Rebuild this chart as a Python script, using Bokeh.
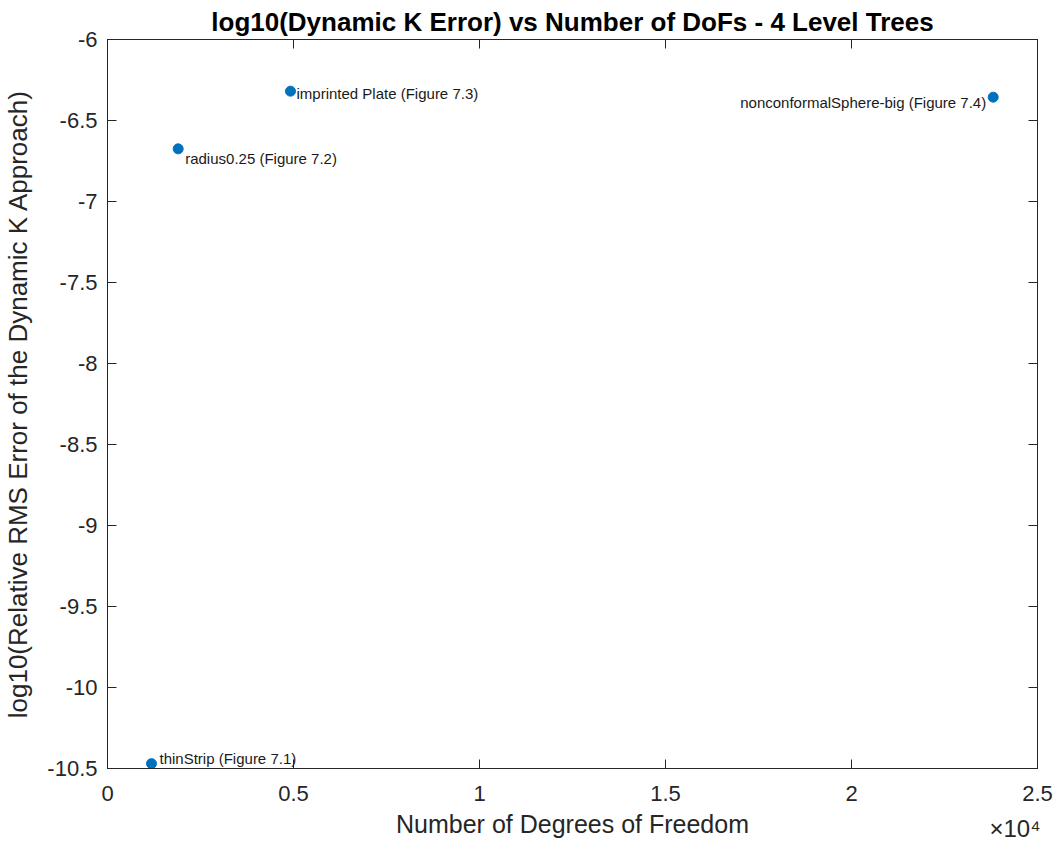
from bokeh.plotting import figure
from bokeh.models import ColumnDataSource, LinearAxis, FixedTicker, Range1d, Title
from bokeh.core.properties import value
from bokeh.embed import file_html
from bokeh.resources import INLINE

# ---- data ----
dofs = [1183, 1900, 4919, 23809]
log_err = [-10.47, -6.675, -6.319, -6.356]
names = ["thinStrip (Figure 7.1)", "radius0.25 (Figure 7.2)",
         "imprinted Plate (Figure 7.3)", "nonconformalSphere-big (Figure 7.4)"]
x_ticks = [0, 5000, 10000, 15000, 20000, 25000]
x_tick_labels = ["0", "0.5", "1", "1.5", "2", "2.5"]
x_exponent = "×10⁴"
y_ticks = [-10.5, -10, -9.5, -9, -8.5, -8, -7.5, -7, -6.5, -6]
y_tick_labels = ["-10.5", "-10", "-9.5", "-9", "-8.5", "-8", "-7.5", "-7", "-6.5", "-6"]

# ---- style (label placement in screen px) ----
lab_dx = [8, 7, 6, -7]
lab_dy = [-5, 10, 2, 5]
lab_align = ["left", "left", "left", "right"]

FONT = "Liberation Sans"
AX = "#262626"
BLUE = "#0072BD"

p = figure(frame_width=930, frame_height=729, output_backend="svg", toolbar_location=None,
           x_range=Range1d(0, 25000), y_range=Range1d(-10.5, -6),
           min_border_left=107, min_border_right=16, min_border_top=39, min_border_bottom=78,
           background_fill_color="white", border_fill_color="white")

p.title.text = "log10(Dynamic K Error) vs Number of DoFs - 4 Level Trees"
p.title.align = "center"
p.title.text_font = FONT
p.title.text_font_size = "26px"
p.title.text_font_style = "bold"
p.title.text_color = "black"
p.title.standoff = 5

p.xgrid.visible = False
p.ygrid.visible = False
p.outline_line_color = AX

xa = p.xaxis[0]
xa.ticker = FixedTicker(ticks=x_ticks)
xa.major_label_overrides = {t: l for t, l in zip(x_ticks, x_tick_labels)}
xa.axis_label = "Number of Degrees of Freedom"
ya = p.yaxis[0]
ya.ticker = FixedTicker(ticks=y_ticks)
ya.major_label_overrides = {t: l for t, l in zip(y_ticks, y_tick_labels)}
ya.axis_label = "log10(Relative RMS Error of the Dynamic K Approach)"

for ax in (xa, ya):
    ax.axis_line_color = AX
    ax.major_tick_line_color = AX
    ax.major_tick_in = 9
    ax.major_tick_out = 0
    ax.minor_tick_line_color = None
    ax.major_label_text_font = FONT
    ax.major_label_text_font_size = "22px"
    ax.major_label_text_color = AX
    ax.axis_label_text_font = FONT
    ax.axis_label_text_font_style = "normal"
    ax.axis_label_text_color = AX
xa.axis_label_text_font_size = "25px"
ya.axis_label_text_font_size = "26px"
xa.major_label_standoff = 17
xa.axis_label_standoff = 6
ya.major_label_standoff = 10
ya.axis_label_standoff = 11

# box axes (top/right) with inward ticks, no labels
top = LinearAxis(ticker=FixedTicker(ticks=x_ticks),
                 major_label_overrides={t: "" for t in x_ticks})
right = LinearAxis(ticker=FixedTicker(ticks=y_ticks),
                   major_label_overrides={t: "" for t in y_ticks})
for ax in (top, right):
    ax.axis_line_color = AX
    ax.major_tick_line_color = AX
    ax.major_tick_in = 9
    ax.major_tick_out = 0
    ax.minor_tick_line_color = None
    ax.major_label_standoff = 0
    ax.major_label_text_font_size = "1px"
p.add_layout(top, "above")
p.add_layout(right, "right")

# x10^4 exponent, drawn as a title under the x axis pulled up next to the axis label
exp_title = Title(text=x_exponent, align="right", vertical_align="top", standoff=-52, offset=-3,
                  text_font=FONT, text_font_size="24px", text_font_style="normal", text_color=AX)
p.add_layout(exp_title, "below")

src = ColumnDataSource(dict(x=dofs, y=log_err, name=names, dx=lab_dx, dy=lab_dy, al=lab_align))
p.scatter("x", "y", source=src, size=10, fill_color=BLUE, line_color=BLUE)
p.text("x", "y", text="name", source=src, x_offset="dx", y_offset="dy", text_align="al",
       text_baseline="middle", text_font=value(FONT), text_font_size="15px", text_color="#1a1a1a")

open("out.html", "w").write(file_html(p, INLINE))
